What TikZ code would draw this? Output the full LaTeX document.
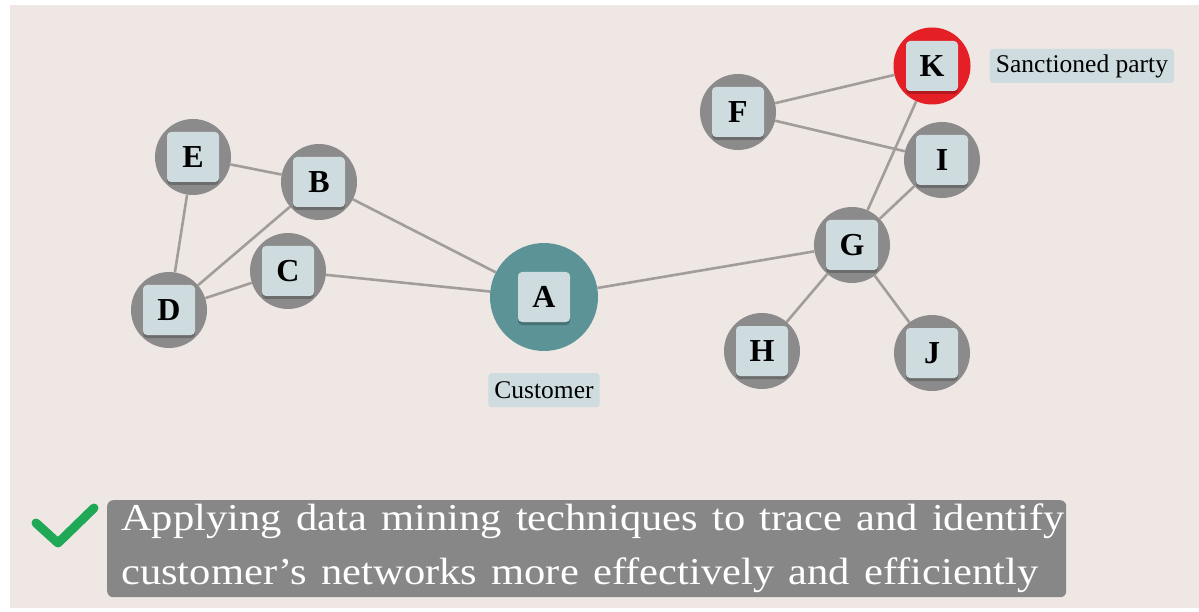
\documentclass[tikz,border=0pt]{standalone}
\usepackage{fontspec}
\setmainfont{Liberation Serif}
\usetikzlibrary{shadows}
\definecolor{bgc}{HTML}{EFE7E4}
\definecolor{ringc}{HTML}{8C8B8B}
\definecolor{tealc}{HTML}{5B9397}
\definecolor{redc}{HTML}{E51F26}
\definecolor{sqc}{HTML}{CEDCE0}
\definecolor{edgec}{HTML}{A29C9A}
\definecolor{bannerc}{HTML}{878787}
\definecolor{greenc}{HTML}{1FA855}
\pgfdeclarelayer{bg}
\pgfdeclarelayer{edges}
\pgfsetlayers{bg,edges,main}
\newcommand{\wideline}[1]{\scalebox{1.12}[1]{#1}}
\begin{document}
\begin{tikzpicture}[x=1pt,y=-1pt,
  ring/.style={circle,fill=ringc,minimum size=76pt,inner sep=0pt},
  sq/.style={rectangle,rounded corners=4pt,fill=sqc,minimum width=52pt,minimum height=50pt,inner sep=0pt,
    font=\fontsize{32}{32}\selectfont\bfseries,
    drop shadow={shadow xshift=0pt,shadow yshift=-3pt,fill=black,opacity=0.22}},
  edge/.style={draw=edgec,line width=2.6pt},
  tag/.style={rectangle,rounded corners=3pt,fill=sqc,inner xsep=6pt,inner ysep=0pt,minimum height=34pt,
    font=\fontsize{25.5}{26}\selectfont},
  banner/.style={rectangle,rounded corners=6pt,fill=bannerc,text=white,align=left,
    font=\fontsize{38}{51}\selectfont,inner xsep=14pt,inner ysep=0pt},
  tick/.style={draw=greenc,line width=9pt,line cap=round,line join=round}]
\useasboundingbox (0,0) rectangle (1199,612);
\begin{pgfonlayer}{bg}
  \fill[bgc] (10,5) rectangle (1199,608);
\end{pgfonlayer}

% nodes
\node[ring] (E) at (193,157) {};
\node[sq] (Es) at (E) {E};
\node[ring] (B) at (319,182) {};
\node[sq] (Bs) at (B) {B};
\node[ring] (C) at (288,271) {};
\node[sq] (Cs) at (C) {C};
\node[ring] (D) at (169,310) {};
\node[sq] (Ds) at (D) {D};
\node[ring,fill=tealc,minimum size=108pt] (A) at (544,297) {};
\node[sq] (As) at (A) {A};
\node[ring] (F) at (738,112) {};
\node[sq] (Fs) at (F) {F};
\node[ring,fill=redc,minimum size=77pt] (K) at (932,66) {};
\node[sq] (Ks) at (K) {K};
\node[ring] (I) at (942,160) {};
\node[sq] (Is) at (I) {I};
\node[ring] (G) at (852,245) {};
\node[sq] (Gs) at (G) {G};
\node[ring] (H) at (762,351) {};
\node[sq] (Hs) at (H) {H};
\node[ring] (J) at (932,353) {};
\node[sq] (Js) at (J) {J};

% labels
\node[tag] (cust) at (544,390) {Customer};
\node[tag] (sanc) at (1082,66) {Sanctioned party};

% banner
\node[banner,anchor=north west,minimum width=959pt,minimum height=97pt,text width=931pt] (ban) at (107,500)
  {\vspace*{3pt}\wideline{Applying data mining techniques to trace and identify}\\
   \wideline{customer’s networks more effectively and efficiently}};

% check mark
\draw[tick] (36,523) -- (58,543) -- (94,508);

% edges
\begin{pgfonlayer}{edges}
\draw[edge] (E) -- (B);
\draw[edge] (E) -- (D);
\draw[edge] (D) -- (B);
\draw[edge] (D) -- (C);
\draw[edge] (C) -- (A);
\draw[edge] (B) -- (A);
\draw[edge] (A) -- (G);
\draw[edge] (G) -- (H);
\draw[edge] (G) -- (J);
\draw[edge] (G) -- (I);
\draw[edge] (G) -- (K);
\draw[edge] (F) -- (K);
\draw[edge] (F) -- (I);
\end{pgfonlayer}
\end{tikzpicture}
\end{document}
